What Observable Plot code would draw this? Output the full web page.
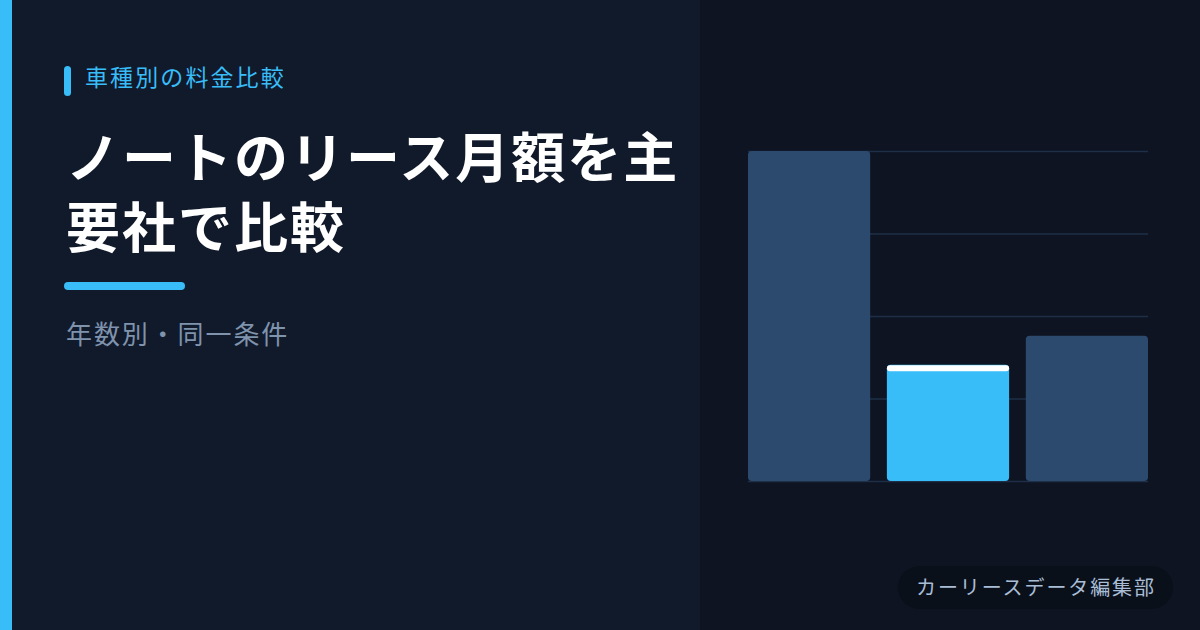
<!DOCTYPE html>
<html lang="ja">
<head>
<meta charset="utf-8">
<script src="https://cdn.jsdelivr.net/npm/d3@7"></script>
<script src="https://cdn.jsdelivr.net/npm/@observablehq/plot@0.6"></script>
<style>
  html, body { margin: 0; padding: 0; }
  body { width: 1200px; height: 630px; overflow: hidden; background: #111a2b; font-family: "Noto Sans CJK JP", "Noto Sans", sans-serif; }
  #root { position: relative; width: 1200px; height: 630px; }
  .right { position: absolute; left: 700px; top: 0; width: 500px; height: 630px; background: #0e1421; }
  .accent { position: absolute; left: 0; top: 0; width: 12px; height: 630px; background: #38bdf8; }
  .pill { position: absolute; left: 64px; top: 66px; width: 7px; height: 30px; border-radius: 3.5px; background: #38bdf8; }
  .label { position: absolute; left: 85px; top: 65px; font-size: 23px; line-height: 1; letter-spacing: 2.1px; color: #38bdf8; white-space: nowrap; }
  .title { position: absolute; left: 66px; top: 120px; font-size: 54px; line-height: 70px; font-weight: 700; letter-spacing: 2.0px; color: #ffffff; white-space: nowrap; }
  .underline { position: absolute; left: 64px; top: 282px; width: 121px; height: 8px; border-radius: 4px; background: #38bdf8; }
  .sub { position: absolute; left: 66px; top: 320px; font-size: 26px; line-height: 1; letter-spacing: 1.9px; color: #7f93ad; white-space: nowrap; }
  .badge { position: absolute; left: 898px; top: 566px; width: 275px; height: 43px; border-radius: 21.5px; background: #0a101a; }
  .badge span { position: absolute; left: 18px; top: 11px; font-size: 20px; line-height: 1; letter-spacing: 1.9px; color: #a9bdd6; white-space: nowrap; }
  #chart { position: absolute; left: 748px; top: 141px; }
</style>
</head>
<body>
<div id="root">
  <div class="right"></div>
  <div class="accent"></div>
  <div class="pill"></div>
  <div class="label">車種別の料金比較</div>
  <div class="title">ノートのリース月額を主<br>要社で比較</div>
  <div class="underline"></div>
  <div class="sub">年数別・同一条件</div>
  <div class="badge"><span>カーリースデータ編集部</span></div>
  <div id="chart"></div>
</div>
<script>
// Data
const companies = ["A社", "B社", "C社"];
const monthlyFees = [40000, 14100, 17600];
const highlighted = "B社";
const gridTicks = [0, 10000, 20000, 30000, 40000];

const data = companies.map((c, i) => ({company: c, value: monthlyFees[i]}));

const chart = Plot.plot({
  width: 400,
  height: 350,
  marginTop: 10,
  marginBottom: 10,
  marginLeft: 0,
  marginRight: 0,
  style: {background: "transparent", overflow: "visible"},
  x: {domain: companies, paddingInner: 0.12, paddingOuter: 0, round: false, axis: null},
  y: {domain: [0, 40000], axis: null},
  marks: [
    Plot.ruleY(gridTicks, {stroke: "#1f2f47", strokeWidth: 1.5}),
    Plot.rectY(data.filter(d => d.company !== highlighted), {x: "company", y: "value", fill: "#2c4a6e", rx: 4}),
    Plot.rectY(data.filter(d => d.company === highlighted), {x: "company", y: "value", fill: "#38bdf8", rx: 4}),
    Plot.tickY(data.filter(d => d.company === highlighted), {x: "company", y: "value", stroke: "#ffffff", strokeWidth: 6, dy: 3, strokeLinecap: "round", insetLeft: 3, insetRight: 3})
  ]
});
document.getElementById("chart").appendChild(chart);
</script>
</body>
</html>
